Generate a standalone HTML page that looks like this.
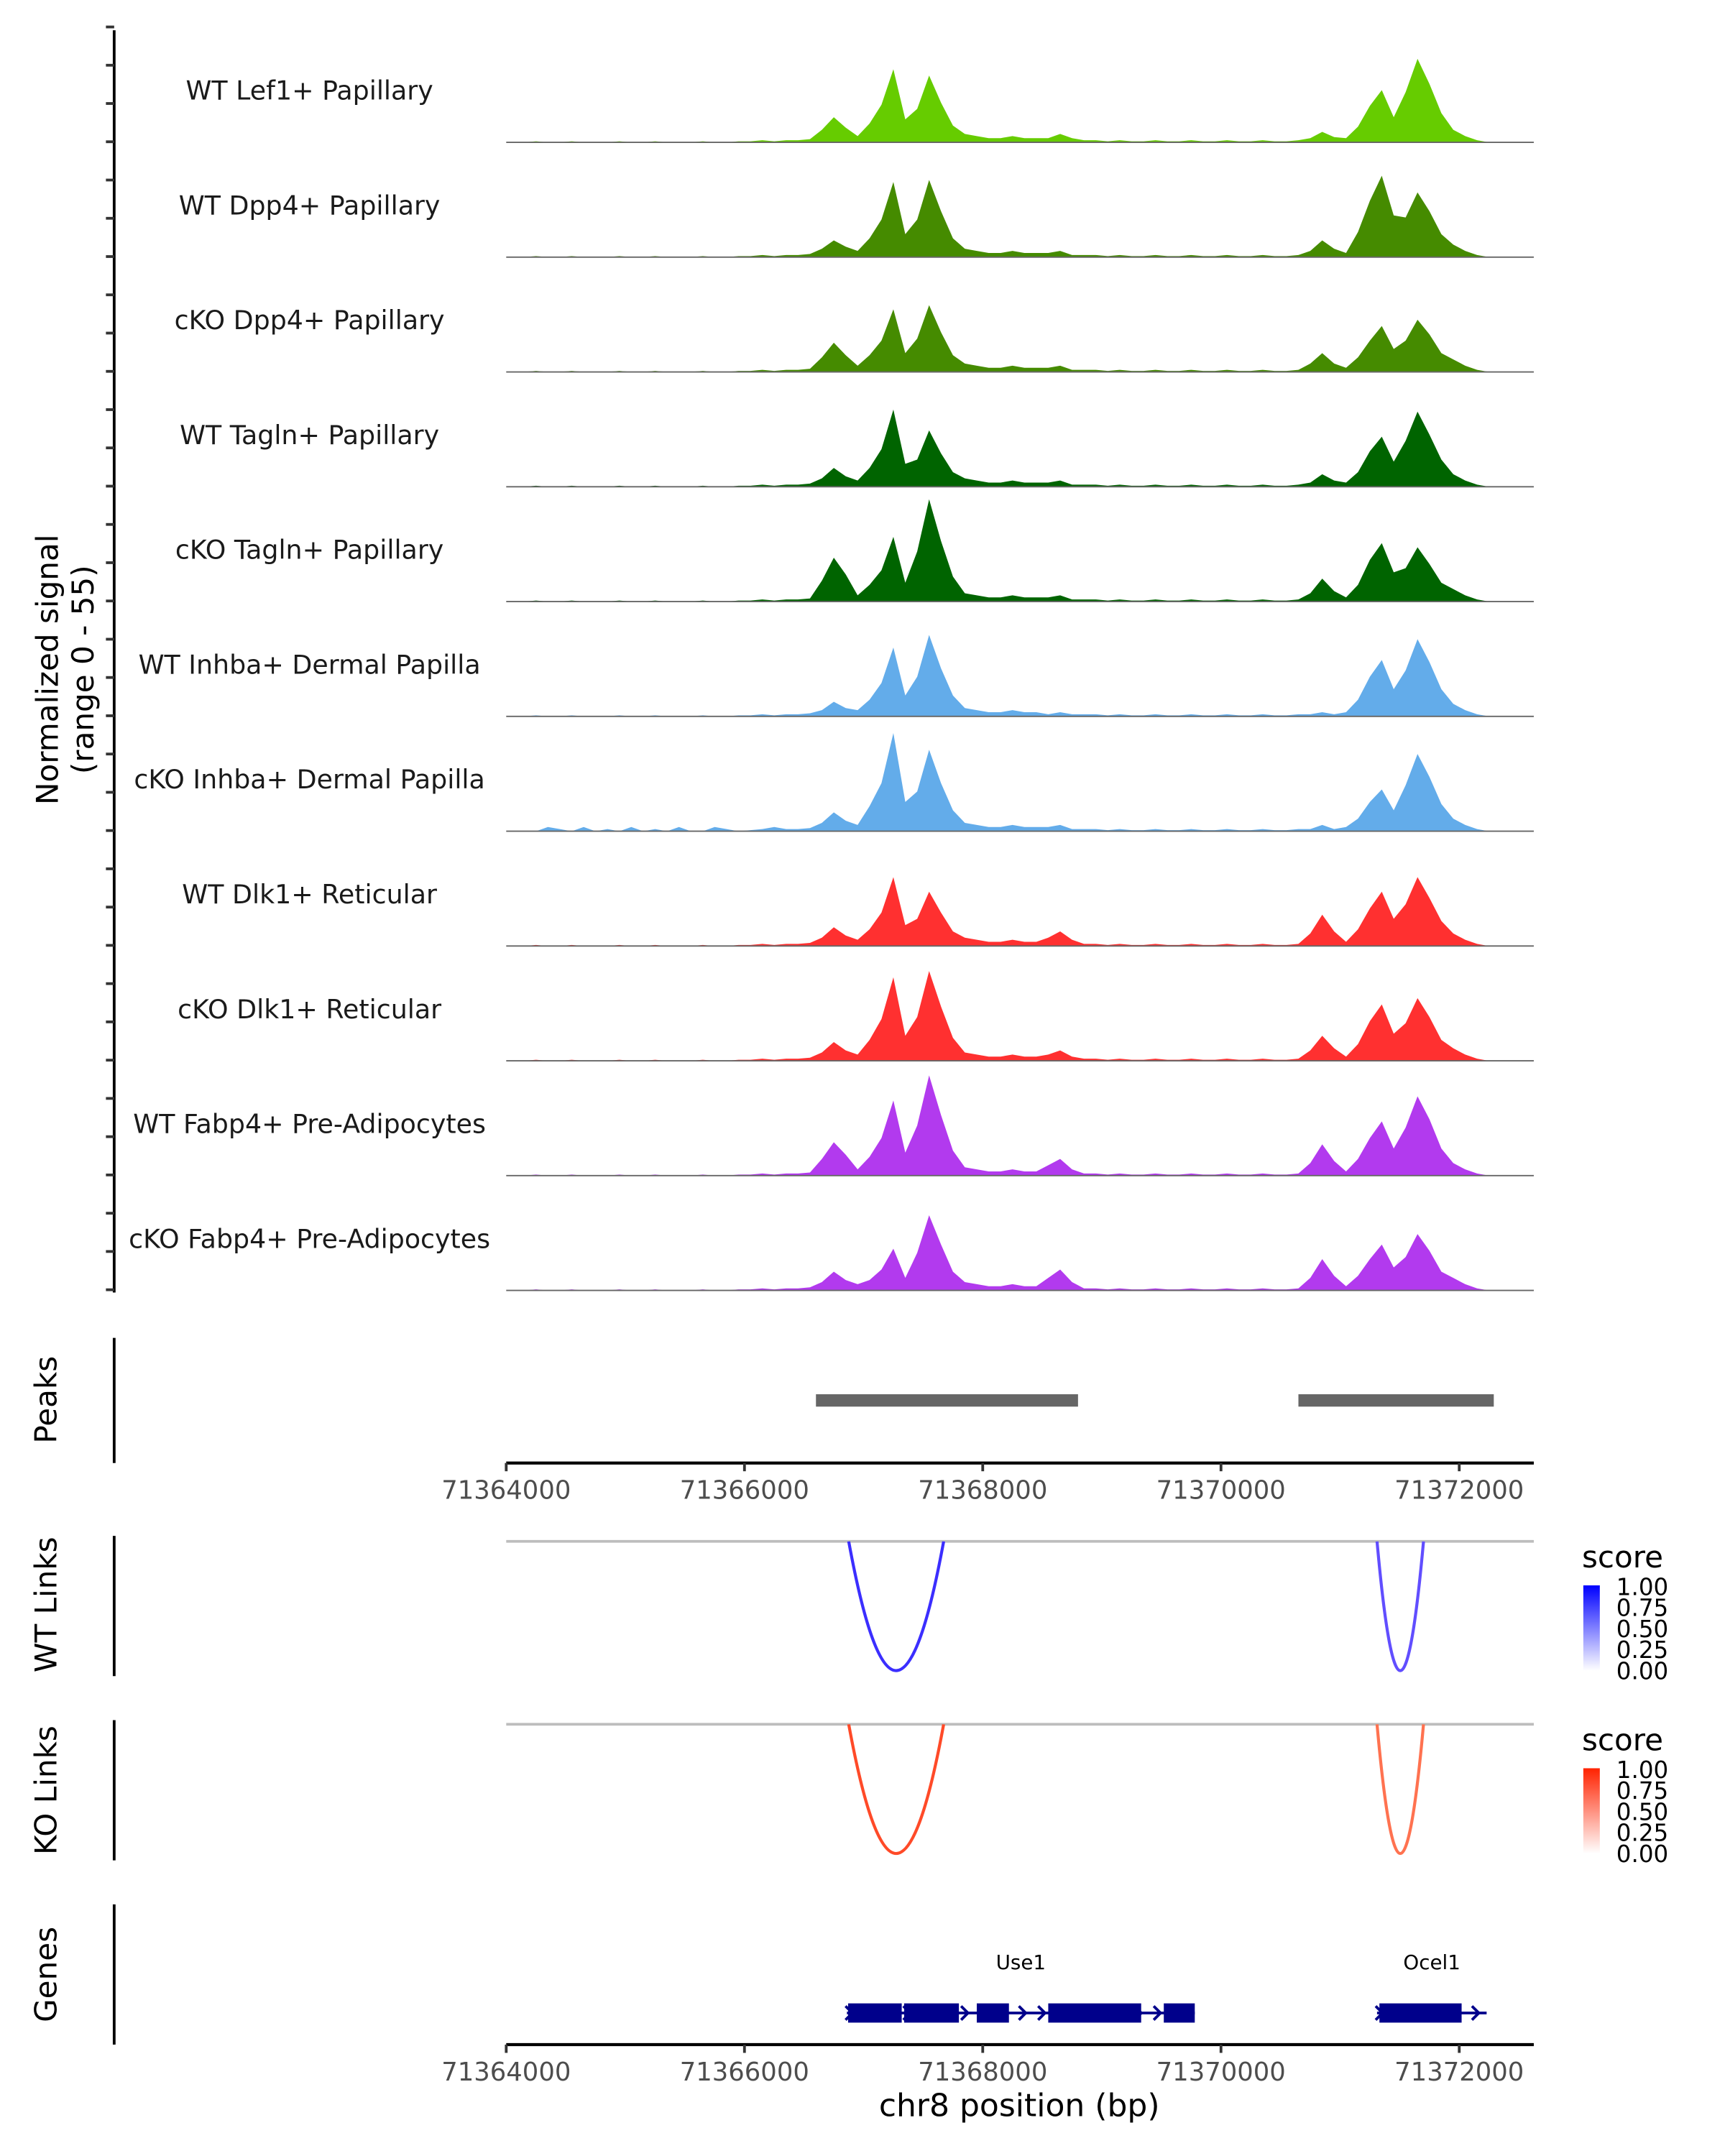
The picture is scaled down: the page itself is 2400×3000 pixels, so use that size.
<!DOCTYPE html>
<html><head><meta charset="utf-8">
<style>
html,body{margin:0;padding:0;background:#fff;}
svg{display:block;font-family:"DejaVu Sans","Liberation Sans",sans-serif;}
</style></head>
<body>
<svg id="chart" width="2400" height="3000" viewBox="0 0 1254 1568" preserveAspectRatio="none" xmlns="http://www.w3.org/2000/svg">
<defs>
<linearGradient id="gBlue" x1="0" y1="1" x2="0" y2="0"><stop offset="0" stop-color="#ffffff"/><stop offset="1" stop-color="#0000ff"/></linearGradient>
<linearGradient id="gRed" x1="0" y1="1" x2="0" y2="0"><stop offset="0" stop-color="#ffffff"/><stop offset="1" stop-color="#ff2200"/></linearGradient>
<clipPath id="clipWT"><rect x="360" y="1121" width="770" height="110"/></clipPath>
<clipPath id="clipKO"><rect x="360" y="1254" width="770" height="110"/></clipPath>
</defs>
<g id="tracks"></g>
<g id="left"></g>
<g id="peaks"></g>
<g id="links"></g>
<g id="genes"></g>
<g id="axes"></g>
</svg>
<script>
const NS = "http://www.w3.org/2000/svg";
const binStart = 71364000;
const binSize = 100;
const trackNames = ["WT Lef1+ Papillary","WT Dpp4+ Papillary","cKO Dpp4+ Papillary","WT Tagln+ Papillary","cKO Tagln+ Papillary","WT Inhba+ Dermal Papilla","cKO Inhba+ Dermal Papilla","WT Dlk1+ Reticular","cKO Dlk1+ Reticular","WT Fabp4+ Pre-Adipocytes","cKO Fabp4+ Pre-Adipocytes"];
const trackColors = ["#66cc00","#458b00","#458b00","#006400","#006400","#63acea","#63acea","#ff3030","#ff3030","#b23aee","#b23aee"];
const early = [0,0,0.5,0,0,0.5,0,0,0,0.5,0,0,0.5,0,0,0,0.5,0,0,0.5,0.5,1,0.5,1,1,1.5];
const earlyNoisy = [0,0,0,2,1,0,2,0,1,0,2,0,1,0,2,0,0,2,1,0,0.5,1,2,1,1,1.5];
const fill = [1,0.5,1,0.5,0.5,1,0.5,0.5,1,0.5,0.5,1,0.5,0.5,1,0.5,0.5,1];
const sigLef1 = [...early,6,12,7,3,9,18,35,11,16,32,19,8,4,3,2,2,3,2,2,2,4,2,1,...fill,2,5,2.5,2,7.5,17.5,25,12,24,40,28,14,6,3,1,0,0];
const sigDpp4WT = [...early,4,8,5,3,9,18,36,11,18,37,22,9,4,3,2,2,3,2,2,2,3,1,1,...fill,3,8,4,2,12,27,39,20,19,31,22,11,6,3,1,0,0];
const sigDpp4KO = [...early,7,14,8,3,8,15,30,9,16,32,19,8,4,3,2,2,3,2,2,2,3,1,1,...fill,4,9,4,2,7,15,22,11,15,25,18,9,6,3,1,0,0];
const sigTaglnWT = [...early,4,9,5,3,9,18,37,11,13,27,16,7,4,3,2,2,3,2,2,2,3,1,1,...fill,2,6,3,2,7,17,24,12,22,36,25,13,6,3,1,0,0];
const sigTaglnKO = [...early,10,21,13,3,8,15,31,9,24,49,29,12,4,3,2,2,3,2,2,2,3,1,1,...fill,4,11,5,2,8,20,28,14,16,26,18,9,6,3,1,0,0];
const sigInhbaWT = [...early,3,7,4,3,8,16,33,10,19,39,23,10,4,3,2,2,3,2,2,1,2,1,1,...fill,1,2,1,2,8,19,27,13,22,37,26,13,6,3,1,0,0];
const sigInhbaKO = [...earlyNoisy,4,9,5,3,12,23,47,14,19,39,23,10,4,3,2,2,3,2,2,2,3,1,1,...fill,1,3,1,2,6,14,20,10,22,37,26,13,6,3,1,0,0];
const sigDlk1WT = [...early,4,9,5,3,8,16,33,10,13,26,16,7,4,3,2,2,3,2,2,4,7,3,1,...fill,6,15,7,2,8,18,26,13,20,33,23,12,6,3,1,0,0];
const sigDlk1KO = [...early,4,9,5,3,10,20,40,12,21,43,26,11,4,3,2,2,3,2,2,3,5,2,1,...fill,5,12,6,2,8,19,27,13,18,30,21,10,6,3,1,0,0];
const sigFabp4WT = [...early,8,16,10,3,9,18,36,11,24,48,29,12,4,3,2,2,3,2,2,5,8,3,1,...fill,6,15,7,2,8,18,26,13,23,38,27,13,6,3,1,0,0];
const sigFabp4KO = [...early,4,9,5,3,5,10,20,6,18,36,22,9,4,3,2,2,3,2,2,6,10,4,1,...fill,6,15,7,2,7,15,22,11,16,27,19,9,6,3,1,0,0];
const signals = [sigLef1,sigDpp4WT,sigDpp4KO,sigTaglnWT,sigTaglnKO,sigInhbaWT,sigInhbaKO,sigDlk1WT,sigDlk1KO,sigFabp4WT,sigFabp4KO];
const yMax = 55;
const peakStarts = [71366600, 71370650];
const peakEnds = [71368800, 71372290];
const wtLinkStarts = [71366875, 71371310];
const wtLinkEnds = [71367672, 71371700];
const wtLinkScores = [0.9, 0.7];
const koLinkStarts = [71366875, 71371310];
const koLinkEnds = [71367672, 71371700];
const koLinkScores = [0.8, 0.6];
const geneNames = ["Use1","Ocel1"];
const geneStarts = [71366860, 71371310];
const geneEnds = [71369780, 71372230];
const exonStarts = [71366870,71367340,71367950,71368550,71369520,71371330];
const exonEnds = [71367320,71367800,71368220,71369330,71369780,71372020];
const axisTicks = [71364000,71366000,71368000,71370000,71372000];
const scoreTicks = ["1.00","0.75","0.50","0.25","0.00"];

const X0 = 368, PXK = 0.0866, XR = 1115;
function xs(bp){ return X0 + (bp - 71364000) * PXK; }
const trackTop = 20, trackH = 83.5;
function ys(v, i){ return (trackTop + trackH*(i+1)) - v / yMax * 83.5; }
function el(tag, attrs, parent){ const e=document.createElementNS(NS,tag); for(const k in attrs) e.setAttribute(k,attrs[k]); parent.appendChild(e); return e; }

const gT = document.getElementById('tracks');
signals.forEach((arr, i) => {
  const base = trackTop + trackH*(i+1);
  let d = `M${xs(binStart)},${base}`;
  arr.forEach((v, j) => { d += ` L${xs(binStart + j*binSize + binSize/2).toFixed(2)},${ys(v,i).toFixed(2)}`; });
  d += ` L${xs(binStart + arr.length*binSize)},${base} Z`;
  const p = el('path', {d:d, fill:trackColors[i]}, gT);
  
  
  const bl = el('line', {x1:xs(binStart), x2:XR, y1:base, y2:base, stroke:'#666', 'stroke-width':1}, gT);
  
  
  const t = el('text', {x:225, y:base-31, 'text-anchor':'middle', 'font-size':19, fill:'#1a1a1a'}, gT);
  t.textContent = trackNames[i];
  
  
});

const gL = document.getElementById('left');
el('line', {x1:83, x2:83, y1:22, y2:940, stroke:'#000', 'stroke-width':2}, gL);
for (let y = 938; y > 19; y -= 27.83) {
  const tk = el('line', {x1:77, x2:83, y1:y, y2:y, stroke:'#333', 'stroke-width':2}, gL);
  
  
}
const yt = el('text', {transform:'translate(42,487) rotate(-90)', 'text-anchor':'middle', 'font-size':22, fill:'#000'}, gL);


yt.innerHTML = '<tspan x="0" dy="0">Normalized signal</tspan><tspan x="0" dy="26">(range 0 - 55)</tspan>';

function sideLabel(txt, yc, y1, y2, name){
  const l = el('line', {x1:83, x2:83, y1:y1, y2:y2, stroke:'#000', 'stroke-width':2}, gL);
  
  
  const t = el('text', {transform:`translate(41,${yc}) rotate(-90)`, 'text-anchor':'middle', 'font-size':22, fill:'#000'}, gL);
  t.textContent = txt;
  
  
}
sideLabel('Peaks', 1018, 973, 1064, 'peaks');
sideLabel('WT Links', 1167, 1117, 1219, 'wt-links');
sideLabel('KO Links', 1302, 1251, 1353, 'ko-links');
sideLabel('Genes', 1436, 1385, 1487, 'genes');

const gP = document.getElementById('peaks');
peakStarts.forEach((s, i) => {
  const r = el('rect', {x:xs(s), y:1014, width:xs(peakEnds[i])-xs(s), height:9, fill:'#666'}, gP);
  
  
});

const gK = document.getElementById('links');
function linkTrack(starts, ends, scores, yTop, color, grad, clip, name){
  const hl = el('line', {x1:368, x2:XR, y1:yTop, y2:yTop, stroke:'#bdbdbd', 'stroke-width':2}, gK);
  
  
  starts.forEach((s, i) => {
    const x1 = xs(s), x2 = xs(ends[i]), xm = (x1+x2)/2, yb = yTop + 94;
    const p = el('path', {d:`M${x1},${yTop} Q${xm},${2*yb-yTop} ${x2},${yTop}`, fill:'none', stroke:color(scores[i]), 'stroke-width':2.2, 'clip-path':`url(#${clip})`}, gK);
    
    
  });
  const lt = el('text', {x:1150, y:yTop+19, 'font-size':22, fill:'#000'}, gK);
  lt.textContent = 'score';
  
  
  const cb = el('rect', {x:1151, y:yTop+32, width:12, height:62, fill:`url(#${grad})`}, gK);
  
  
  scoreTicks.forEach((s, j) => {
    const t = el('text', {x:1175, y:yTop+39+j*15.3, 'font-size':17, fill:'#000'}, gK);
    t.textContent = s;
    
    
  });
}
function blueC(s){ const a = 1 - s; return `rgb(${Math.round(255*a*0.9+40*s)},${Math.round(255*a*0.75+30*s)},255)`; }
function redC(s){ const a = 1 - s; return `rgb(255,${Math.round(34+200*a)},${Math.round(0+200*a)})`; }
linkTrack(wtLinkStarts, wtLinkEnds, wtLinkScores, 1121, blueC, 'gBlue', 'clipWT', 'wt-link');
linkTrack(koLinkStarts, koLinkEnds, koLinkScores, 1254, redC, 'gRed', 'clipKO', 'ko-link');

const gG = document.getElementById('genes');
geneStarts.forEach((s, i) => {
  const x1 = xs(s), x2 = xs(geneEnds[i]);
  const l = el('line', {x1:x1, x2:x2, y1:1464, y2:1464, stroke:'#00008b', 'stroke-width':2}, gG);
  
  
  for (let x = x1 + 2; x < x2; x += 14) {
    const a = el('path', {d:`M${x-3},${1459} L${x+2},${1464} L${x-3},${1469}`, fill:'none', stroke:'#00008b', 'stroke-width':2}, gG);
    
    
  }
  const t = el('text', {x:(x1+x2)/2, y:1432, 'text-anchor':'middle', 'font-size':14.5, fill:'#000'}, gG);
  t.textContent = geneNames[i];
  
  
});
exonStarts.forEach((s, i) => {
  const r = el('rect', {x:xs(s), y:1457, width:xs(exonEnds[i])-xs(s), height:14, fill:'#00008b'}, gG);
  
  
});

const gA = document.getElementById('axes');
[1064, 1487].forEach(y => {
  const l = el('line', {x1:368, x2:XR, y1:y, y2:y, stroke:'#000', 'stroke-width':2.2}, gA);
  
  
  axisTicks.forEach(b => {
    const tk = el('line', {x1:xs(b), x2:xs(b), y1:y, y2:y+6, stroke:'#333', 'stroke-width':2}, gA);
    
    
    const t = el('text', {x:xs(b), y:y+26, 'text-anchor':'middle', 'font-size':18.5, fill:'#4d4d4d'}, gA);
    t.textContent = String(b);
    
    
  });
});
const xt = el('text', {x:741, y:1539, 'text-anchor':'middle', 'font-size':23, fill:'#000'}, gA);
xt.textContent = 'chr8 position (bp)';


</script>
</body></html>
